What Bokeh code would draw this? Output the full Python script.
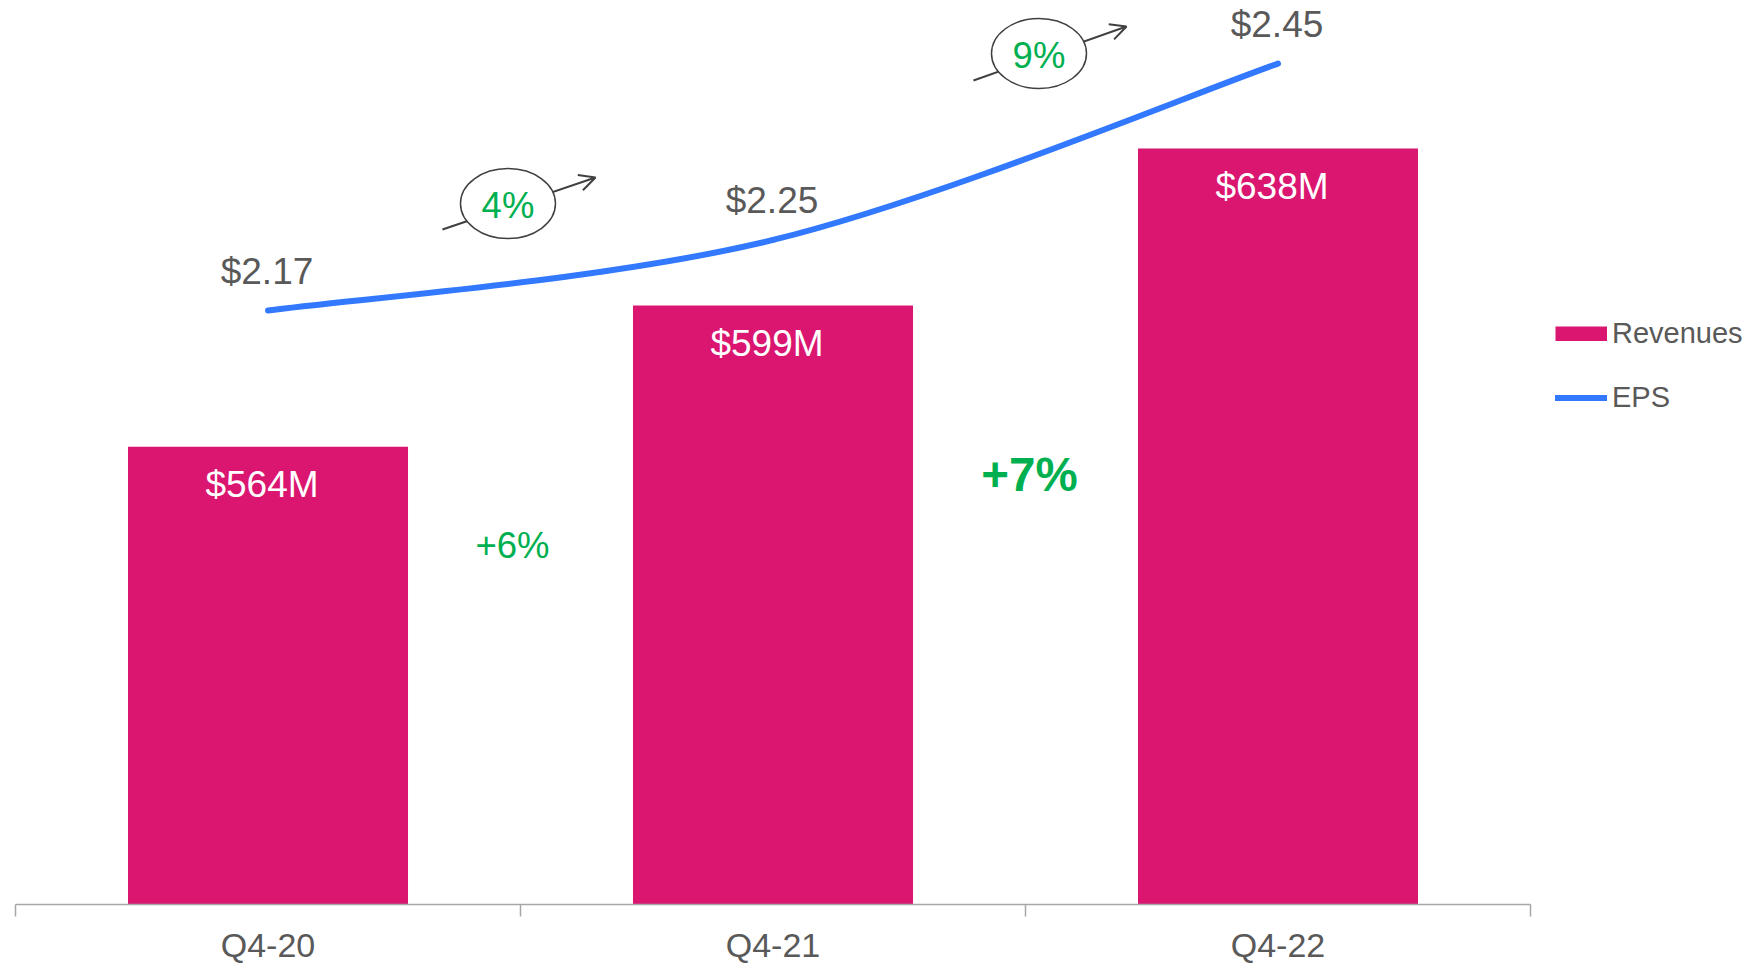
import numpy as np
from bokeh.plotting import figure
from bokeh.models import (Range1d, FixedTicker, CustomJSTickFormatter, Legend, LegendItem,
                          Arrow, OpenHead, ColumnDataSource)
from bokeh.core.properties import value
from bokeh.embed import file_html
from bokeh.resources import INLINE

# ---------------- data ----------------
categories = ["Q4-20", "Q4-21", "Q4-22"]
revenues = [564, 599, 638]          # $M
eps = [2.17, 2.25, 2.45]            # $
revenue_labels = ["$564M", "$599M", "$638M"]
eps_labels = ["$2.17", "$2.25", "$2.45"]

# ---------------- style ----------------
FONT = "Liberation Sans"
GRAY = "#595959"
DARK = "#404040"
AXIS = "#A6A6A6"
MAGENTA = "#DA1670"
BLUE = "#3279FF"
GREEN = "#00B050"

n = len(categories)
centers = np.arange(n) + 0.5
edges = np.arange(n + 1)

REV_MIN, REV_MAX = 450.4, 674.7
EPS_MIN, EPS_MAX = 1.4965, 2.5215

p = figure(width=1757, height=966, output_backend="svg", toolbar_location=None,
           x_range=Range1d(0, 3.4495), y_range=Range1d(REV_MIN, REV_MAX),
           y_axis_location=None, min_border_left=15, min_border_right=0,
           min_border_top=0, min_border_bottom=62, outline_line_color=None)
p.extra_y_ranges = {"eps": Range1d(EPS_MIN, EPS_MAX)}
p.grid.visible = False

ax = p.xaxis[0]
ax.ticker = FixedTicker(ticks=list(centers), minor_ticks=list(edges))
ax.formatter = CustomJSTickFormatter(args=dict(cats=categories),
                                     code="return cats[Math.floor(tick)] || '';")
ax.bounds = (0, n)
ax.major_tick_out = 12
ax.major_tick_in = 0
ax.major_tick_line_color = None
ax.minor_tick_out = 12
ax.minor_tick_in = 0
ax.minor_tick_line_color = AXIS
ax.minor_tick_line_width = 1.5
ax.axis_line_color = AXIS
ax.axis_line_width = 1.5
ax.major_label_standoff = 9
ax.major_label_text_font = FONT
ax.major_label_text_font_size = "34px"
ax.major_label_text_color = GRAY

# ---------------- bars ----------------
src = ColumnDataSource(dict(x=centers, top=revenues, lab=revenue_labels))
bars = p.vbar(x="x", top="top", bottom=REV_MIN, width=0.5545, fill_color=MAGENTA,
              line_color=None, source=src)
p.text(x="x", y="top", text="lab", source=src, x_offset=-6, y_offset=38,
       text_align="center", text_baseline="middle", text_color="white",
       text_font=value(FONT), text_font_size="37px")

# ---------------- smoothed EPS line (cubic Bezier through the data points) ----------------
P = np.column_stack([centers, eps])
Pm = np.vstack([P[:1], P, P[-1:]])
c0 = P[:-1] + (Pm[2:n + 1] - Pm[0:n - 1]) / 6.0
c1 = P[1:] - (Pm[3:n + 2] - Pm[1:n]) / 6.0
bez = p.bezier(x0=P[:-1, 0], y0=P[:-1, 1], x1=P[1:, 0], y1=P[1:, 1],
               cx0=c0[:, 0], cy0=c0[:, 1], cx1=c1[:, 0], cy1=c1[:, 1],
               line_color=BLUE, line_width=6, line_cap="round", y_range_name="eps")
p.text(x=centers, y=eps, text=eps_labels, x_offset=-1, y_offset=-39, text_align="center",
       text_baseline="middle", text_color=GRAY, text_font=value(FONT),
       text_font_size="37px", y_range_name="eps")

# ---------------- growth annotations ----------------
rev_growth = [f"+{round((b / a - 1) * 100)}%" for a, b in zip(revenues[:-1], revenues[1:])]
eps_growth = [f"{round((b / a - 1) * 100)}%" for a, b in zip(eps[:-1], eps[1:])]

p.text(x=[edges[1]], y=[539.4], text=[rev_growth[0]], x_offset=-8, text_align="center",
       text_baseline="middle", text_color=GREEN, text_font=value(FONT),
       text_font_size="36.5px")
p.text(x=[edges[2]], y=[557.0], text=[rev_growth[1]], x_offset=4, text_align="center",
       text_baseline="middle", text_color=GREEN, text_font=value(FONT),
       text_font_size="47.5px", text_font_style="bold")

for xs, ys, xe, ye in [(0.8455, 2.2618, 1.1485, 2.3208), (1.8970, 2.4308, 2.2000, 2.4920)]:
    p.add_layout(Arrow(x_start=xs, y_start=ys, x_end=xe, y_end=ye,
                       end=OpenHead(size=16, line_color=DARK, line_width=2),
                       line_color=DARK, line_width=2, y_range_name="eps", level="underlay"))

ell_x = [0.9752, 2.0267]
ell_y = [2.2913, 2.4614]
p.ellipse(x=ell_x, y=ell_y, width=95, height=70, width_units="screen", height_units="screen",
          fill_color="white", line_color=DARK, line_width=1.5, y_range_name="eps")
p.text(x=ell_x, y=ell_y, text=eps_growth, y_offset=2, text_align="center",
       text_baseline="middle", text_color=GREEN, text_font=value(FONT),
       text_font_size="36.5px", y_range_name="eps")

# ---------------- legend ----------------
rev_proxy = p.line(x=np.array([np.nan]), y=np.array([np.nan]), line_color=MAGENTA,
                   line_width=15, line_cap="butt")
legend = Legend(items=[LegendItem(label="Revenues", renderers=[rev_proxy]),
                       LegendItem(label="EPS", renderers=[bez])],
                location=(1540, 490), glyph_width=52, glyph_height=15, label_standoff=5,
                spacing=31, padding=0, margin=0, border_line_color=None,
                background_fill_alpha=0, label_text_font=FONT, label_text_font_size="29px",
                label_text_color=GRAY)
p.add_layout(legend)

open("out.html", "w").write(file_html(p, INLINE))
